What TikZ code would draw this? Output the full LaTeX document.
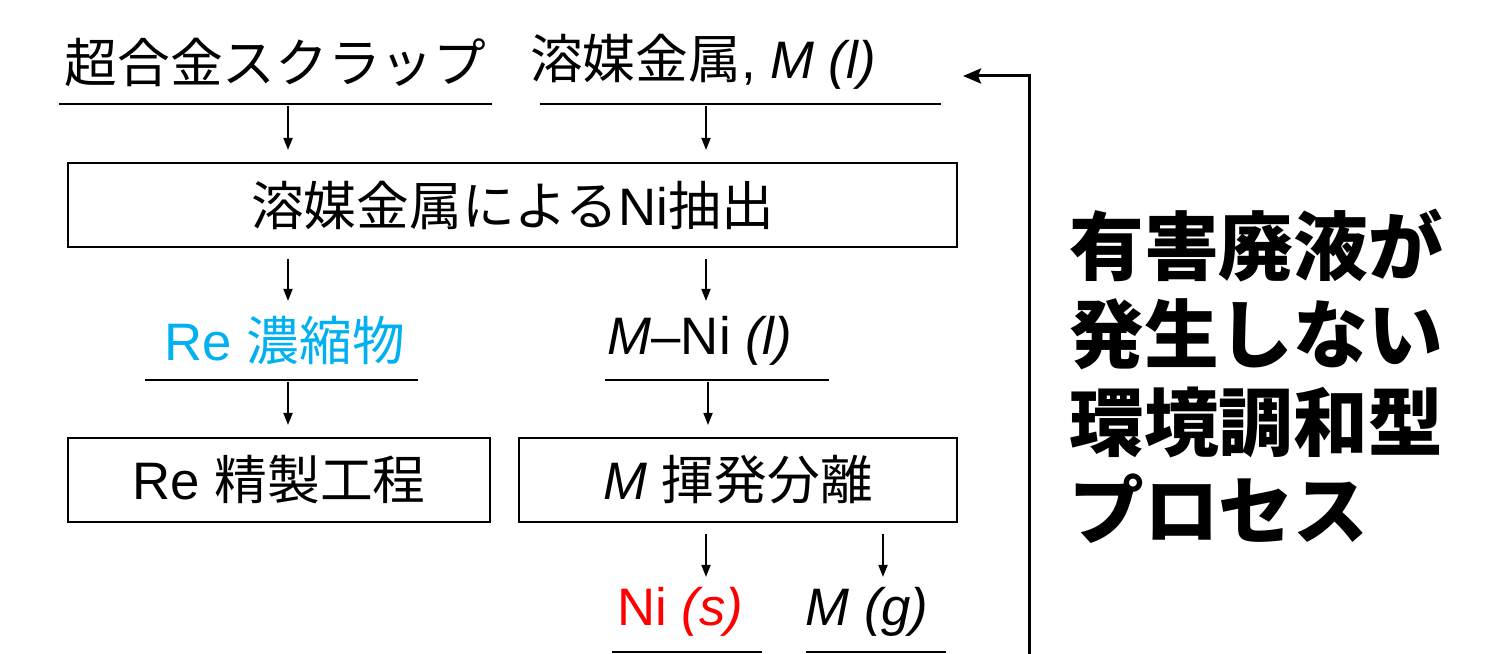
\documentclass[tikz,border=0pt]{standalone}
\usepackage{fontspec}
\setmainfont{Liberation Sans}
\newfontfamily\jp{Noto Sans CJK JP}
\usetikzlibrary{arrows.meta}
\definecolor{reblue}{HTML}{00B0F0}

\begin{document}
\begin{tikzpicture}[
	txt/.style={font=\fontsize{30}{36}\selectfont, inner sep=0pt},
	box/.style={draw, line width=1.1pt, minimum height=1.68cm, inner sep=0pt, font=\fontsize{30}{36}\selectfont},
	rule/.style={line width=1.1pt},
	flow/.style={-{Triangle[length=0.24cm, width=0.18cm]}, line width=1pt},
	back/.style={-{Stealth[length=0.36cm, width=0.3cm, inset=0.06cm]}, line width=1.7pt}
]
	\useasboundingbox (0, 0) rectangle (30.22, 13.08);

	% inputs
	\node[txt] (scrap)	at (5.51, 11.84)	{\jp 超合金スクラップ};
	\node[txt] (solv)	at (14.06, 11.84)	{{\jp 溶媒金属}, \textit{M (l)}};
	\coordinate (scrapL) at (1.18, 11.0);	\coordinate (scrapR) at (9.84, 11.0);
	\coordinate (solvL) at (10.80, 11.0);	\coordinate (solvR) at (18.82, 11.0);
	\draw[rule]	(scrapL) -- (scrapR);
	\draw[rule]	(solvL) -- (solvR);

	\node[box, minimum width=17.78cm] (ext) at (10.25, 8.98) {{\jp 溶媒金属による}Ni{\jp 抽出}};

	% products of extraction
	\node[txt, text=reblue] (reconc)	at (5.70, 6.28)	{Re {\jp 濃縮物}};
	\node[txt] (mni)	at (14.0, 6.26)	{\textit{M}--Ni \textit{(l)}};
	\coordinate (reL) at (2.90, 5.48);	\coordinate (reR) at (8.36, 5.48);
	\coordinate (mniL) at (12.10, 5.48);	\coordinate (mniR) at (16.58, 5.48);
	\draw[rule]	(reL) -- (reR);
	\draw[rule]	(mniL) -- (mniR);

	\node[box, minimum width=8.44cm] (refine) at (5.58, 3.48) {Re {\jp 精製工程}};
	\node[box, minimum width=8.76cm] (sep) at (14.76, 3.48) {\textit{M} {\jp 揮発分離}};

	% outputs
	\node[txt, text=red] (nis)	at (13.6, 0.84)	{Ni \textit{(s)}};
	\node[txt] (mg)	at (17.34, 0.84)	{\textit{M (g)}};
	\coordinate (nisL) at (12.24, 0.04);	\coordinate (nisR) at (15.24, 0.04);
	\coordinate (mgL) at (16.12, 0.04);	\coordinate (mgR) at (18.92, 0.04);
	\draw[rule]	(nisL) -- (nisR);
	\draw[rule]	(mgL) -- (mgR);

	% arrow columns
	\coordinate (colA) at (5.76, 0);
	\coordinate (colB) at (14.12, 0);
	\coordinate (colC) at (14.16, 0);
	\coordinate (colD) at (17.66, 0);

	\draw[flow]	(colA |- scrapL) ++(0, -0.04) -- ++(0, -0.88);
	\draw[flow]	(colB |- solvL) ++(0, -0.04) -- ++(0, -0.88);
	\draw[flow]	(colA |- ext.south) ++(0, -0.22) -- ++(0, -0.84);
	\draw[flow]	(colB |- ext.south) ++(0, -0.22) -- ++(0, -0.84);
	\draw[flow]	(colA |- reL) ++(0, -0.04) -- ++(0, -0.86);
	\draw[flow]	(colC |- mniL) ++(0, -0.04) -- ++(0, -0.86);
	\draw[flow]	(colB |- sep.south) ++(0, -0.22) -- ++(0, -0.86);
	\draw[flow]	(colD |- sep.south) ++(0, -0.22) -- ++(0, -0.86);

	% recycle of the solvent metal
	\coordinate (loopS) at (20.58, 0);
	\coordinate (loopE) at (19.26, 11.56);
	\draw[back]	(loopS) |- (loopE);

	\node[anchor=west, inner sep=0pt, align=left, font=\jp\bfseries\fontsize{42.5}{50}\selectfont] (claim)
		at (21.38, 5.55) {有害廃液が\\発生しない\\環境調和型\\プロセス};
\end{tikzpicture}
\end{document}
